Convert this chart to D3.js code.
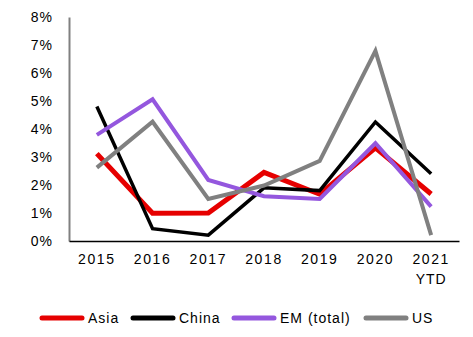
<!DOCTYPE html>
<html>
<head>
<meta charset="utf-8">
<script src="https://cdn.jsdelivr.net/npm/d3@7"></script>
<style>
  body { margin: 0; background: #fff; }
  text { font-family: "Liberation Sans", Arial, sans-serif; fill: #000; }
</style>
</head>
<body>
<div id="chart"></div>
<script>
// categories and series (values in %)
const years = ["2015", "2016", "2017", "2018", "2019", "2020", "2021"];
const asia  = [3.12, 0.99, 1.0, 2.45, 1.67, 3.33, 1.68];
const china = [4.8, 0.44, 0.21, 1.9, 1.8, 4.25, 2.4];
const em    = [3.79, 5.06, 2.18, 1.6, 1.5, 3.49, 1.23];
const us    = [2.62, 4.26, 1.5, 1.98, 2.86, 6.79, 0.21];
const yTicks = [0, 1, 2, 3, 4, 5, 6, 7, 8];

const series = [
  {name: "Asia", values: asia, color: "#e60000", width: 5},
  {name: "China", values: china, color: "#000000", width: 3.5},
  {name: "EM (total)", values: em, color: "#9457de", width: 4},
  {name: "US", values: us, color: "#808080", width: 4}
];

const W = 473, H = 337;
const svg = d3.select("#chart").append("svg")
  .attr("width", W).attr("height", H);

const x = d3.scaleBand().domain(years).range([69, 459]);
const y = d3.scaleLinear().domain([0, 8]).range([241, 17]);

// y axis
const yAxis = svg.append("g")
  .attr("transform", "translate(69,0)")
  .call(d3.axisLeft(y).tickValues(yTicks).tickSize(0).tickPadding(16).tickFormat(d => d + "%"));
yAxis.select(".domain").attr("stroke", "#808080").attr("stroke-width", 2);
yAxis.selectAll("text")
  .style("font-size", "14px").style("letter-spacing", "1px")
  .attr("dy", "0.35em").attr("x", -16);

// x axis
const xAxis = svg.append("g")
  .attr("transform", "translate(0,241)")
  .call(d3.axisBottom(x).tickSize(0).tickPadding(0));
xAxis.select(".domain").attr("stroke", "#000").attr("stroke-width", 1.3);
xAxis.selectAll("text").remove();
xAxis.selectAll(".tick").append("text")
  .attr("y", 23)
  .attr("text-anchor", "middle")
  .style("font-size", "14px").style("letter-spacing", "1.6px")
  .text(d => d);
xAxis.selectAll(".tick").filter(d => d === "2021").append("text")
  .attr("y", 43)
  .attr("text-anchor", "middle")
  .style("font-size", "14px").style("letter-spacing", "1px")
  .text("YTD");

// lines
const line = d3.line()
  .x((d, i) => x(years[i]) + x.bandwidth() / 2)
  .y(d => y(d));

svg.append("g").selectAll("path")
  .data(series)
  .enter().append("path")
    .attr("d", d => line(d.values))
    .attr("fill", "none")
    .attr("stroke", d => d.color)
    .attr("stroke-width", d => d.width)
    .attr("stroke-linejoin", "miter");

// legend
const legendX = [42, 133, 234, 366];
const legend = svg.selectAll(".legend")
  .data(series)
  .enter().append("g")
  .attr("class", "legend")
  .attr("transform", (d, i) => `translate(${legendX[i]},318)`);

legend.append("line")
  .attr("x1", 0).attr("x2", 40)
  .attr("stroke", d => d.color)
  .attr("stroke-width", 5)
  .attr("stroke-linecap", "round");

legend.append("text")
  .attr("x", 46)
  .attr("dy", "0.35em")
  .style("font-size", "14px").style("letter-spacing", "1px")
  .text(d => d.name);
</script>
</body>
</html>
